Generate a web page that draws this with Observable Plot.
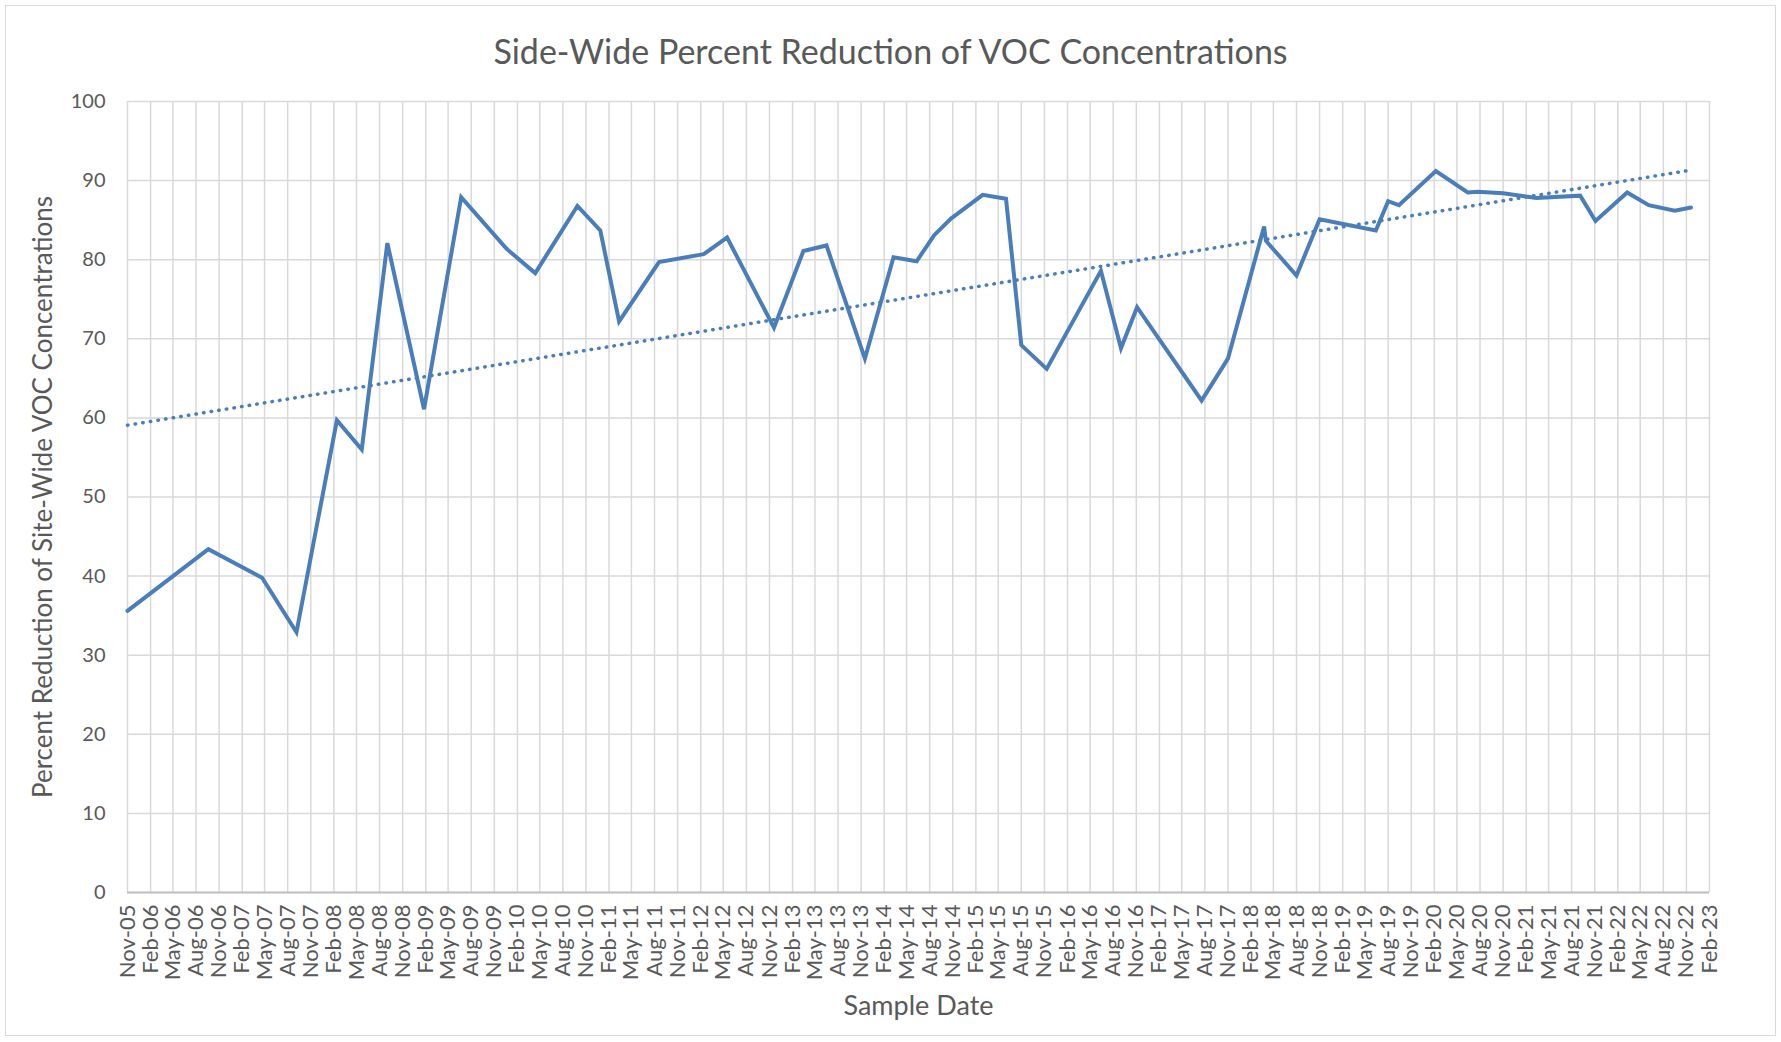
<!DOCTYPE html>
<html>
<head>
<meta charset="utf-8">
<script src="https://cdn.jsdelivr.net/npm/d3@7"></script>
<script src="https://cdn.jsdelivr.net/npm/@observablehq/plot@0.6"></script>
<style>
  html, body { margin: 0; padding: 0; background: #fff; }
  #chart { position: relative; width: 1781px; height: 1042px; overflow: hidden; background: #fff;
           font-family: Lato, "Open Sans", sans-serif; }
  #frame { position: absolute; left: 5px; top: 5px; width: 1771px; height: 1031px;
           border: 1.5px solid #d9d9d9; box-sizing: border-box; }
  #title { position: absolute; left: 0; top: 31px; width: 1781px; text-align: center;
           font-size: 34px; line-height: 40px; color: #595959; }
  #plot { position: absolute; left: 0; top: 70px; }
</style>
</head>
<body>
<div id="chart">
  <div id="frame"></div>
  <div id="title">Side-Wide Percent Reduction of VOC Concentrations</div>
  <div id="plot"></div>
</div>
<script>
// ---- Data ----
const sampleDates = [
  "2005-11-01","2006-09-19","2007-04-21","2007-09-05","2008-02-13","2008-05-22","2008-09-01",
  "2009-01-25","2009-06-22","2009-12-19","2010-04-13","2010-09-28","2010-12-28","2011-03-13",
  "2011-08-19","2012-02-13","2012-05-16","2012-11-19","2013-03-16","2013-06-16","2013-11-16",
  "2014-03-10","2014-06-10","2014-08-19","2014-10-25","2015-02-28","2015-06-01","2015-08-01",
  "2015-11-10","2016-06-13","2016-09-01","2016-11-04","2017-07-19","2017-11-01","2018-03-25",
  "2018-04-01","2018-08-01","2018-11-01","2019-06-13","2019-08-01","2019-09-13","2020-02-07",
  "2020-06-13","2020-07-22","2020-11-01","2021-03-13","2021-09-04","2021-11-04","2022-03-10",
  "2022-06-04","2022-09-16","2022-11-19"
];
const reductionPct = [
  35.6, 43.4, 39.8, 32.9, 59.7, 56.0, 82.1,
  61.1, 87.9, 81.4, 78.3, 86.8, 83.7, 72.2,
  79.7, 80.7, 82.8, 71.4, 81.1, 81.8, 67.5,
  80.3, 79.8, 83.1, 85.2, 88.2, 87.7, 69.2,
  66.2, 78.6, 68.8, 74.0, 62.2, 67.5, 84.2,
  82.4, 78.0, 85.1, 83.7, 87.4, 86.9, 91.2,
  88.5, 88.6, 88.4, 87.8, 88.1, 84.9, 88.5,
  86.9, 86.2, 86.6
];
const tickLabels = [
  "Nov-05","Feb-06","May-06","Aug-06","Nov-06","Feb-07","May-07","Aug-07","Nov-07",
  "Feb-08","May-08","Aug-08","Nov-08","Feb-09","May-09","Aug-09","Nov-09",
  "Feb-10","May-10","Aug-10","Nov-10","Feb-11","May-11","Aug-11","Nov-11",
  "Feb-12","May-12","Aug-12","Nov-12","Feb-13","May-13","Aug-13","Nov-13",
  "Feb-14","May-14","Aug-14","Nov-14","Feb-15","May-15","Aug-15","Nov-15",
  "Feb-16","May-16","Aug-16","Nov-16","Feb-17","May-17","Aug-17","Nov-17",
  "Feb-18","May-18","Aug-18","Nov-18","Feb-19","May-19","Aug-19","Nov-19",
  "Feb-20","May-20","Aug-20","Nov-20","Feb-21","May-21","Aug-21","Nov-21",
  "Feb-22","May-22","Aug-22","Nov-22","Feb-23"
];
const yTicks = [0, 10, 20, 30, 40, 50, 60, 70, 80, 90, 100];

// ---- Build ----
const parseDay = d3.utcParse("%Y-%m-%d");
const parseTick = d3.utcParse("%b-%y");
const data = sampleDates.map((d, i) => ({date: parseDay(d), value: reductionPct[i]}));
const tickDates = tickLabels.map(parseTick);
const labelOf = new Map(tickDates.map((d, i) => [+d, tickLabels[i]]));

const lineColor = "#4a7ebb";
const gridColor = "#d9d9d9";
const textColor = "#595959";

const chart = Plot.plot({
  width: 1781,
  height: 972,
  marginTop: 31,
  marginBottom: 150,
  marginLeft: 127,
  marginRight: 72,
  style: {fontFamily: 'Lato, "Open Sans", sans-serif', color: textColor, background: "transparent"},
  x: {type: "utc", domain: [tickDates[0], tickDates[tickDates.length - 1]]},
  y: {domain: [0, 100]},
  marks: [
    Plot.gridX(tickDates, {stroke: gridColor, strokeOpacity: 1, strokeWidth: 1.5}),
    Plot.gridY(yTicks, {stroke: gridColor, strokeOpacity: 1, strokeWidth: 1.5}),
    Plot.ruleY([0], {stroke: "#bfbfbf", strokeWidth: 2}),
    Plot.axisX({ticks: tickDates, tickFormat: d => labelOf.get(+d), tickRotate: -90,
                tickSize: 0, tickPadding: 12, fontSize: 22, label: null, fill: textColor}),
    Plot.axisY({ticks: yTicks, tickSize: 0, tickPadding: 22, fontSize: 20, label: null, fill: textColor}),
    Plot.text(["Percent Reduction of Site-Wide VOC Concentrations"],
              {frameAnchor: "left", rotate: -90, dx: -84, textAnchor: "middle", fontSize: 26, fill: textColor}),
    Plot.text(["Sample Date"], {frameAnchor: "bottom", dy: 122, fontSize: 27, fill: textColor}),
    Plot.linearRegressionY(data, {x: "date", y: "value", ci: 0, stroke: lineColor,
                strokeWidth: 3.5, strokeDasharray: "0.5 7.2", strokeLinecap: "round"}),
    Plot.line(data, {x: "date", y: "value", stroke: lineColor, strokeWidth: 4,
                strokeLinejoin: "miter", strokeMiterlimit: 4})
  ]
});
document.getElementById("plot").appendChild(chart);
</script>
</body>
</html>
